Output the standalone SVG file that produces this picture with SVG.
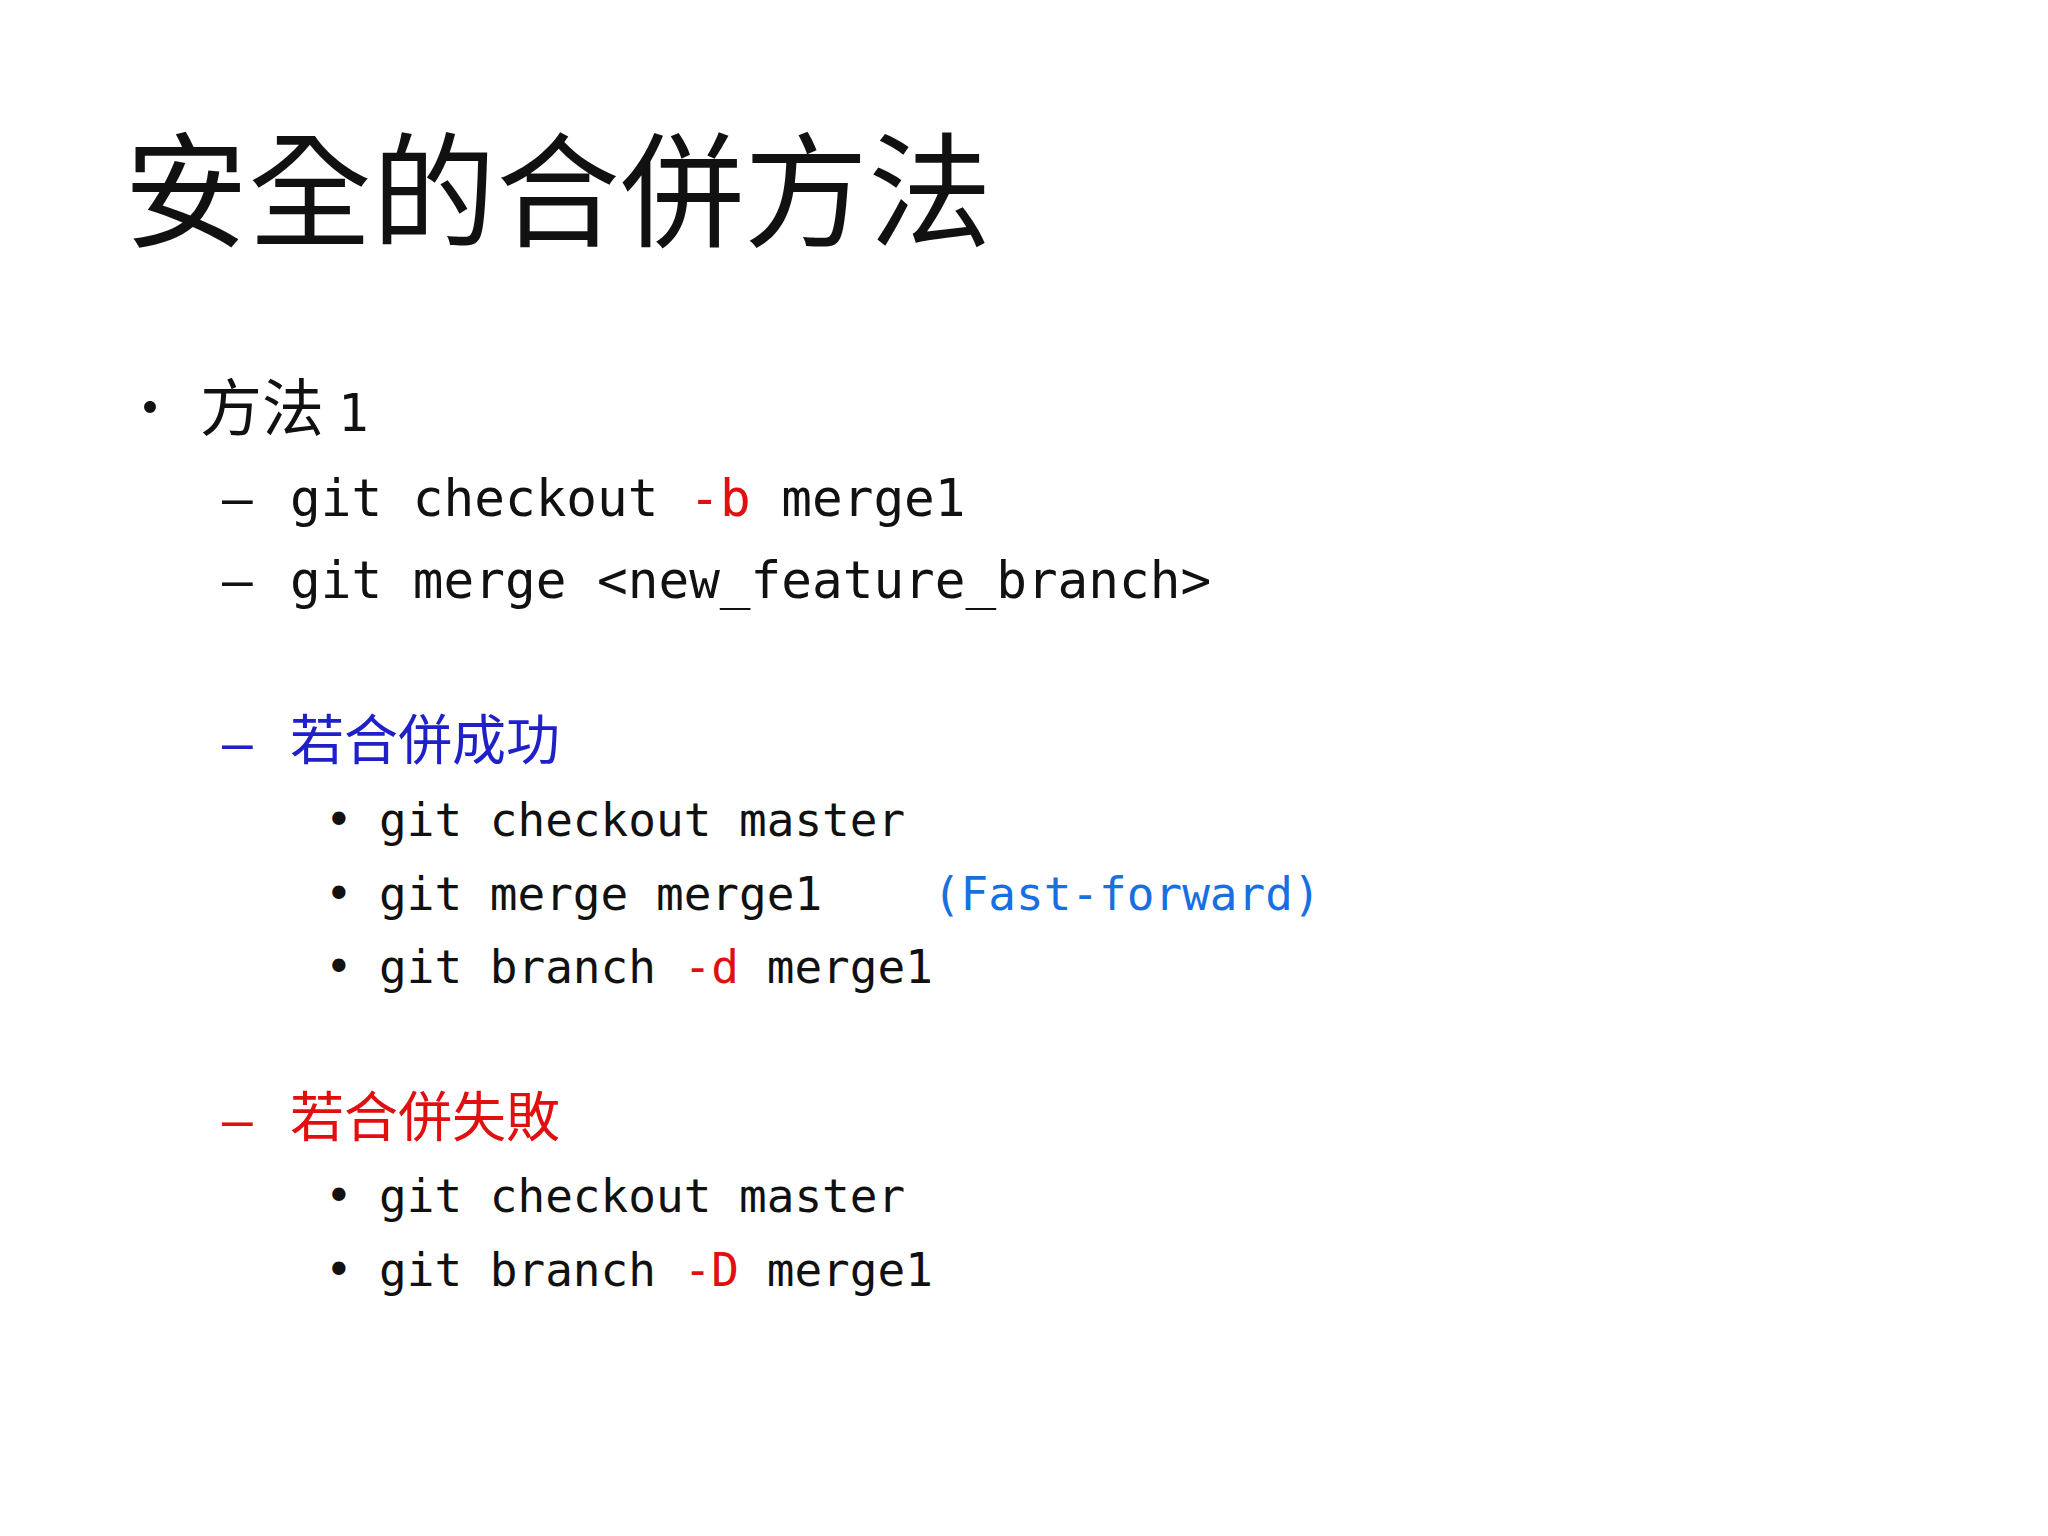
<svg xmlns="http://www.w3.org/2000/svg" width="2048" height="1536" viewBox="0 0 2048 1536">
<style>
.cjk{font-family:"Noto Sans CJK TC","Noto Sans CJK SC",sans-serif;fill:#111}
.m1{font-family:"DejaVu Sans Mono","Liberation Mono",monospace;font-size:51px;fill:#111}
.m2{font-family:"DejaVu Sans Mono","Liberation Mono",monospace;font-size:46px;fill:#111}
.r{fill:#e01010}
.b{fill:#1a6fe0}
.bl{fill:#2020c8}
</style>
<rect width="2048" height="1536" fill="#fff"/>
<g id="title"><text class="cjk" x="124" y="237" font-size="124">安全的合併方法</text></g>
<g id="l1">
<text class="cjk" x="122" y="428" font-size="56">•</text>
<text class="cjk" x="200" y="431" font-size="62">方法 <tspan class="m1" font-size="60">1</tspan></text>
</g>
<g id="l2"><text class="m1" x="222" y="516" xml:space="preserve">–</text><text class="m1" x="290" y="516" xml:space="preserve">git checkout <tspan class="r">-b</tspan> merge1</text></g>
<g id="l3"><text class="m1" x="222" y="598" xml:space="preserve">–</text><text class="m1" x="290" y="598" xml:space="preserve">git merge &lt;new_feature_branch&gt;</text></g>
<g id="l4"><text class="m1 bl" x="222" y="761">–</text><text class="cjk bl" x="290" y="760" font-size="54">若合併成功</text></g>
<g id="l5"><text class="m2" x="325" y="836">•</text><text class="m2" x="379" y="836" xml:space="preserve">git checkout master</text></g>
<g id="l6"><text class="m2" x="325" y="910">•</text><text class="m2" x="379" y="910" xml:space="preserve">git merge merge1    <tspan class="b">(Fast-forward)</tspan></text></g>
<g id="l7"><text class="m2" x="325" y="983">•</text><text class="m2" x="379" y="983" xml:space="preserve">git branch <tspan class="r">-d</tspan> merge1</text></g>
<g id="l8"><text class="m1 r" x="222" y="1138">–</text><text class="cjk r" x="290" y="1137" font-size="54">若合併失敗</text></g>
<g id="l9"><text class="m2" x="325" y="1212">•</text><text class="m2" x="379" y="1212" xml:space="preserve">git checkout master</text></g>
<g id="l10"><text class="m2" x="325" y="1286">•</text><text class="m2" x="379" y="1286" xml:space="preserve">git branch <tspan class="r">-D</tspan> merge1</text></g>
<g id="connectors"/>
</svg>
